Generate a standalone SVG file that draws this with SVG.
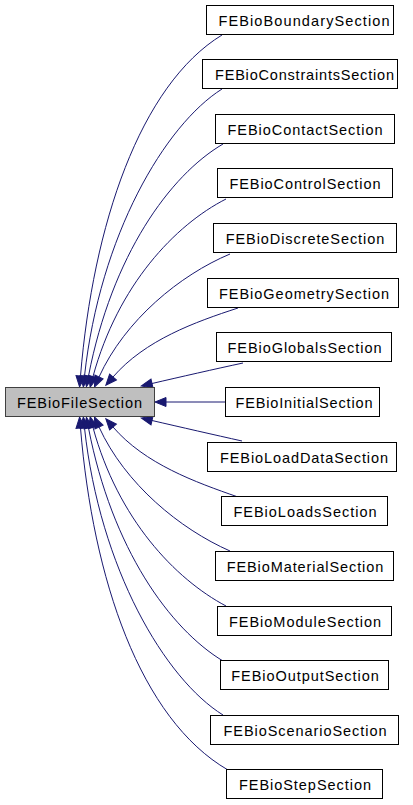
<svg xmlns="http://www.w3.org/2000/svg" width="413" height="805" viewBox="0 0 413 805">
<style>
.n rect{fill:#ffffff;stroke:#000000;stroke-width:1}
.n text{font-family:"Liberation Sans",Arial,sans-serif;font-size:14.5px;fill:#000000;text-anchor:middle}
#main rect{fill:#bfbfbf;stroke:#404040}
.e path{fill:none;stroke:#191970;stroke-width:1;marker-end:url(#ah)}
</style>
<defs>
<marker id="ah" markerUnits="userSpaceOnUse" markerWidth="13" markerHeight="11" viewBox="0 -5.5 13 11" refX="0" refY="0" orient="auto" overflow="visible">
<path d="M0,-4.5 L11,0 L0,4.5 Z" fill="#191970" stroke="#191970" stroke-width="1"/>
</marker>
</defs>
<rect width="413" height="805" fill="#ffffff"/>
<g id="edges" class="e">
<path d="M222,35 C140,85 93,225 80.5,376"/>
<path d="M222,89 C165,125 100,235 84.5,376"/>
<path d="M223,144 C170,175 112,255 88.5,376"/>
<path d="M226,199 C175,225 118,285 93,376.5"/>
<path d="M230,254 C180,275 125,320 99,377"/>
<path d="M238,308 C195,322 145,340 113,377"/>
<path d="M243,363 C215,369 180,377 152,383.5"/>
<path d="M225.5,402 L166,402"/>
<path d="M242,441 C215,435 180,427 152,420.5"/>
<path d="M238,497 C195,482 145,464 113,427"/>
<path d="M230,551 C180,529 125,484 99,427"/>
<path d="M226,606 C175,579 118,519 93,427.5"/>
<path d="M223,661 C170,629 112,549 88.5,428"/>
<path d="M223,715 C165,679 100,569 84.5,428"/>
<path d="M228,770 C140,719 93,579 80.5,428"/>
</g>
<g id="main" class="n"><rect x="5.5" y="387.5" width="149" height="29"/><text x="79.5" y="407.5" textLength="125" lengthAdjust="spacing">FEBioFileSection</text></g>
<g id="boundary" class="n"><rect x="206.5" y="5.5" width="187" height="29"/><text x="304" y="26" textLength="171" lengthAdjust="spacing">FEBioBoundarySection</text></g>
<g id="constraints" class="n"><rect x="202.5" y="59.5" width="195" height="29"/><text x="304.5" y="80" textLength="179" lengthAdjust="spacing">FEBioConstraintsSection</text></g>
<g id="contact" class="n"><rect x="215.5" y="114.5" width="179" height="29"/><text x="305" y="135" textLength="155" lengthAdjust="spacing">FEBioContactSection</text></g>
<g id="control" class="n"><rect x="217.5" y="168.5" width="175" height="29"/><text x="305" y="189" textLength="151" lengthAdjust="spacing">FEBioControlSection</text></g>
<g id="discrete" class="n"><rect x="213.5" y="223.5" width="183" height="29"/><text x="305" y="244" textLength="158.5" lengthAdjust="spacing">FEBioDiscreteSection</text></g>
<g id="geometry" class="n"><rect x="207.5" y="278.5" width="191" height="29"/><text x="304" y="299" textLength="170" lengthAdjust="spacing">FEBioGeometrySection</text></g>
<g id="globals" class="n"><rect x="216.5" y="332.5" width="175" height="29"/><text x="304.5" y="353" textLength="154" lengthAdjust="spacing">FEBioGlobalsSection</text></g>
<g id="initial" class="n"><rect x="225.5" y="387.5" width="154" height="29"/><text x="304" y="408" textLength="137" lengthAdjust="spacing">FEBioInitialSection</text></g>
<g id="loaddata" class="n"><rect x="207.5" y="442.5" width="189" height="29"/><text x="304" y="463" textLength="168" lengthAdjust="spacing">FEBioLoadDataSection</text></g>
<g id="loads" class="n"><rect x="221.5" y="496.5" width="166" height="29"/><text x="305" y="517" textLength="143" lengthAdjust="spacing">FEBioLoadsSection</text></g>
<g id="material" class="n"><rect x="215.5" y="551.5" width="178" height="29"/><text x="305" y="572" textLength="156.5" lengthAdjust="spacing">FEBioMaterialSection</text></g>
<g id="module" class="n"><rect x="217.5" y="606.5" width="174" height="29"/><text x="305" y="627" textLength="152" lengthAdjust="spacing">FEBioModuleSection</text></g>
<g id="output" class="n"><rect x="220.5" y="660.5" width="168" height="29"/><text x="305" y="681" textLength="147.5" lengthAdjust="spacing">FEBioOutputSection</text></g>
<g id="scenario" class="n"><rect x="210.5" y="715.5" width="188" height="29"/><text x="305" y="736" textLength="163" lengthAdjust="spacing">FEBioScenarioSection</text></g>
<g id="step" class="n"><rect x="226.5" y="769.5" width="156" height="29"/><text x="305" y="790" textLength="132" lengthAdjust="spacing">FEBioStepSection</text></g>
</svg>
